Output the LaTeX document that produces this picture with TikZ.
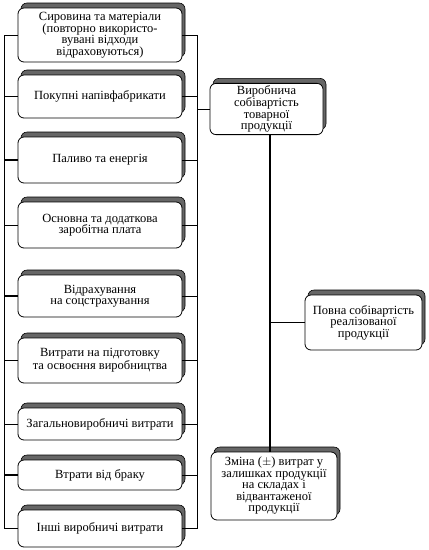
\documentclass[tikz,border=0pt]{standalone}
\usepackage{fontspec}
\setmainfont{Liberation Serif}
\usetikzlibrary{shadows}

\begin{document}
\begin{tikzpicture}[x=1pt, y=-1pt,
    box/.style={draw, rounded corners=6pt, fill=white, line width=0.8pt,
      align=center, font=\fontsize{12.5}{11.5}\selectfont, inner sep=2pt,
      general shadow={fill=black!60, draw=black, line width=0.6pt,
        shadow xshift=3pt, shadow yshift=5pt}},
    item/.style={box, minimum width=164pt},
    link/.style={line width=0.8pt},
    heavy/.style={line width=1.6pt}]
    \useasboundingbox (0,0) rectangle (429,550);

    % Статті витрат
    \node[item, minimum height=54pt] (syr) at (100,35) {Сировина та матеріали\\(повторно використо-\\вувані відходи\\відраховуються)};
    \node[item, minimum height=43pt] (pok) at (100,96.5) {Покупні напівфабрикати};
    \node[item, minimum height=46pt] (pal) at (100,160) {Паливо та енергія};
    \node[item, minimum height=46pt] (zar) at (100,225) {Основна та додаткова\\заробітна плата};
    \node[item, minimum height=42pt] (vid) at (100,296) {Відрахування\\на соцстрахування};
    \node[item, minimum height=45pt] (pid) at (100,360.5) {Витрати на підготовку\\та освоєння виробництва};
    \node[item, minimum height=32pt] (zag) at (100,424) {Загальновиробничі витрати};
    \node[item, minimum height=30pt] (bra) at (100,475) {Втрати від браку};
    \node[item, minimum height=37pt] (inshi) at (100,528.5) {Інші виробничі витрати};

    % Собівартість
    \node[box, minimum width=113pt, minimum height=48pt] (vyr) at (266.5,109) {Виробнича\\собівартість\\товарної\\продукції};
    \node[box, minimum width=117pt, minimum height=55pt] (povna) at (363.5,322.5) {Повна собівартість\\реалізованої\\продукції};
    \node[box, minimum width=126pt, minimum height=68pt] (zmina) at (274,486) {Зміна ($\pm$) витрат у\\залишках продукції\\на складах і\\відвантаженої\\продукції};

    % Шини
    \coordinate (lx) at (4,0);
    \coordinate (rx) at (197,0);
    \coordinate (mx) at (270,0);
    \draw[link] (syr.west -| lx) -- (inshi.west -| lx);
    \draw[link] (syr.east -| rx) -- (inshi.east -| rx);

    % Відводи зліва
    \foreach \n in {syr, pok, zar, pid, zag, inshi}
      \draw[link] (\n.west) -- (\n.west -| lx);
    \foreach \n in {pal, vid, bra}
      \draw[heavy] (\n.west) -- (\n.west -| lx);

    % Відводи справа
    \foreach \n in {syr, pok, pal, zar, vid, pid, zag, bra}
      \draw[link] (\n.east) -- (\n.east -| rx);
    \draw[heavy] (inshi.east) -- (inshi.east -| rx);

    % Зв'язки собівартості
    \draw[link] (vyr.west) -- (vyr.west -| rx);
    \draw[heavy] (vyr.south -| mx) -- (zmina.north -| mx);
    \draw[link] (povna.west) -- (povna.west -| mx);
\end{tikzpicture}
\end{document}
